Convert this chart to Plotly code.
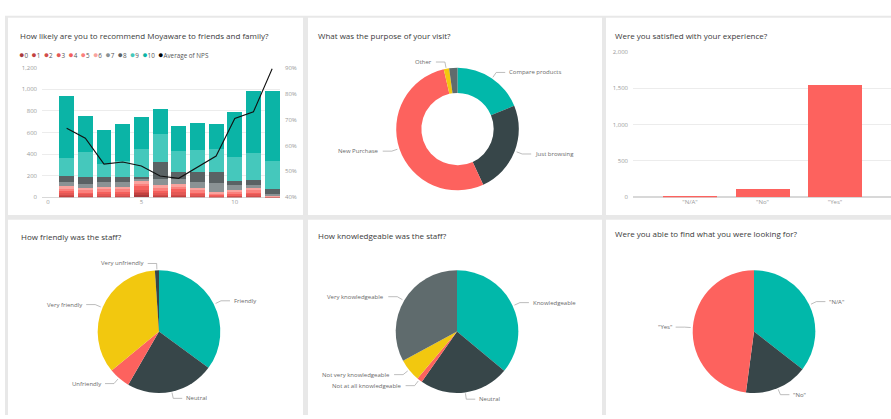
import math
import plotly.graph_objects as go

W, H = 891, 419
FONT = "Open Sans"

# ---------------- data ----------------
# Panel 1: recommend score distribution per period + average NPS
periods = list(range(1, 13))
score_labels = [str(i) for i in range(11)]
score0 = [8, 5, 6, 5, 30, 8, 8, 5, 3, 4, 5, 1]
score1 = [6, 5, 5, 6, 12, 7, 8, 5, 3, 4, 5, 1]
score2 = [10, 8, 8, 9, 12, 10, 12, 8, 4, 6, 8, 1]
score3 = [12, 10, 12, 11, 16, 13, 16, 10, 6, 8, 10, 2]
score4 = [22, 20, 21, 22, 30, 24, 28, 20, 10, 16, 20, 3]
score5 = [20, 18, 20, 19, 26, 22, 24, 18, 10, 14, 18, 3]
score6 = [22, 22, 22, 22, 30, 26, 28, 22, 12, 18, 22, 3]
score7 = [45, 36, 45, 45, 15, 60, 46, 51, 82, 39, 30, 15]
score8 = [55, 61, 52, 52, 20, 160, 60, 91, 100, 39, 43, 50]
score9 = [161, 236, 115, 145, 260, 255, 197, 212, 221, 225, 251, 257]
score10 = [575, 333, 318, 340, 294, 230, 237, 243, 225, 418, 576, 652]
avg_nps = [0.666, 0.628, 0.528, 0.536, 0.521, 0.482, 0.473, 0.515, 0.559, 0.704, 0.730, 0.896]
scores = [score0, score1, score2, score3, score4, score5, score6, score7, score8, score9, score10]

# Panel 2: purpose of visit
purpose_labels = ["Compare products", "Just browsing", "New Purchase", "Other", "(Blank)"]
purpose_values = [318, 411, 901, 24, 37]

# Panel 3: satisfied
satisfied_labels = ['"N/A"', '"No"', '"Yes"']
satisfied_values = [20, 120, 1550]

# Panel 4: friendliness
friendly_labels = ["Friendly", "Neutral", "Unfriendly", "Very friendly", "Very unfriendly"]
friendly_values = [593, 394, 96, 590, 18]

# Panel 5: knowledge
knowledge_labels = ["Knowledgeable", "Neutral", "Not at all knowledgeable",
                    "Not very knowledgeable", "Very knowledgeable"]
knowledge_values = [609, 401, 24, 101, 556]

# Panel 6: found what looking for
found_labels = ['"N/A"', '"No"', '"Yes"']
found_values = [600, 281, 810]

# ---------------- styles ----------------
score_colors = ["#A83A3C", "#C2413F", "#D24C4A", "#E35855", "#F4605C", "#FB817D",
                "#F9A39E", "#8A9294", "#5A6264", "#45C8BC", "#0BB4A6"]
TEAL, DARK, RED, YELLOW, GRAY = "#01B8AA", "#374649", "#FD625E", "#F2C80F", "#5F6B6D"
TICKC = "#9a9a9a"
TITLEC = "#3a3a3a"
LABELC = "#6a6a6a"


def px(x):
    return x / W


def py(y):
    return 1 - y / H


fig = go.Figure()

# ---- Panel 1 stacked bars + line ----
for lab, vals, col in zip(score_labels, scores, score_colors):
    fig.add_trace(go.Bar(x=periods, y=vals, name=lab, marker=dict(color=col, line=dict(width=0)),
                         width=0.8, xaxis="x", yaxis="y", showlegend=False))
fig.add_trace(go.Scatter(x=periods, y=avg_nps, mode="lines", name="Average of NPS",
                         line=dict(color="#111111", width=1.1), xaxis="x", yaxis="y2",
                         showlegend=False))

# ---- Panel 3 bars ----
fig.add_trace(go.Bar(x=satisfied_labels, y=satisfied_values, marker=dict(color=RED, line=dict(width=0)),
                     width=0.745, xaxis="x3", yaxis="y3", showlegend=False))

# ---- Pies ----
shapes = []
annotations = []


def pie_domain(cx, cy, r):
    return dict(x=[px(cx - r), px(cx + r)], y=[py(cy + r), py(cy - r)])


def add_pie(labels, values, colors, cx, cy, r, hole=0.0, skip=()):
    fig.add_trace(go.Pie(labels=labels, values=values, sort=False, direction="clockwise",
                         rotation=0, hole=hole, textinfo="none", showlegend=False,
                         marker=dict(colors=colors, line=dict(width=0)),
                         domain=pie_domain(cx, cy, r)))
    total = float(sum(values))
    cum = 0.0
    for lab, v in zip(labels, values):
        mid = (cum + v / 2.0) / total * 2 * math.pi
        cum += v
        if lab in skip:
            continue
        s, c = math.sin(mid), math.cos(mid)
        x0, y0 = cx + (r + 1) * s, cy - (r + 1) * c
        x1, y1 = cx + (r + 7) * s, cy - (r + 7) * c
        side = 1 if s >= 0 else -1
        x2 = x1 + side * 9
        shapes.append(dict(type="path", xref="paper", yref="paper",
                           path=f"M {px(x0)},{py(y0)} L {px(x1)},{py(y1)} L {px(x2)},{py(y1)}",
                           line=dict(color="#a0a0a0", width=0.7)))
        annotations.append(dict(x=px(x2 + side * 2), y=py(y1), xref="paper", yref="paper",
                                text=lab, showarrow=False, xanchor="left" if side > 0 else "right",
                                yanchor="middle", font=dict(family=FONT, size=6, color=LABELC)))


add_pie(purpose_labels, purpose_values, [TEAL, DARK, RED, YELLOW, GRAY], 457.5, 127.5, 62.5,
        hole=0.59, skip=("(Blank)",))
add_pie(friendly_labels, friendly_values, [TEAL, DARK, RED, YELLOW, DARK], 159, 334, 62.5)
add_pie(knowledge_labels, knowledge_values, [TEAL, DARK, RED, YELLOW, GRAY], 457, 334, 62.5)
add_pie(found_labels, found_values, [TEAL, DARK, RED], 754, 334, 62.5)

# ---- panel backgrounds ----
bg_shapes = [dict(type="rect", xref="paper", yref="paper", x0=px(5), x1=px(891), y0=py(419), y1=py(12),
                  fillcolor="#e8e8e8", line=dict(width=0), layer="below")]
panels = [(8, 14, 303, 215), (308, 14, 602, 215), (606, 14, 891, 215),
          (8, 220, 303, 419), (308, 220, 602, 419), (606, 220, 891, 419)]
for (x0, y0, x1, y1) in panels:
    bg_shapes.append(dict(type="rect", xref="paper", yref="paper", x0=px(x0), x1=px(x1),
                          y0=py(y1), y1=py(y0), fillcolor="white", line=dict(width=0), layer="below"))

# ---- titles ----
titles = [
    ("How likely are you to recommend Moyaware to friends and family?", 18, 32),
    ("What was the purpose of your visit?", 316, 32),
    ("Were you satisfied with your experience?", 613, 32),
    ("How friendly was the staff?", 19, 237),
    ("How knowledgeable was the staff?", 316, 236),
    ("Were you able to find what you were looking for?", 613, 234),
]
for t, x, y in titles:
    annotations.append(dict(x=px(x), y=py(y), xref="paper", yref="paper", text=t, showarrow=False,
                            xanchor="left", yanchor="middle",
                            font=dict(family=FONT, size=8, color=TITLEC)))

# ---- custom legend for panel 1 ----
legend_parts = [f"<span style='color:{c};font-size:9px'>●</span>{lab}"
                for lab, c in zip(score_labels, score_colors)]
legend_parts.append("<span style='color:#000000;font-size:9px'>●</span>Average of NPS")
annotations.append(dict(x=px(17), y=py(51), xref="paper", yref="paper", text="  ".join(legend_parts),
                        showarrow=False, xanchor="left", yanchor="middle",
                        font=dict(family=FONT, size=6.3, color="#555555")))

tickfont = dict(family=FONT, size=6, color=TICKC)

fig.update_layout(
    width=W, height=H, autosize=False,
    margin=dict(l=0, r=0, t=0, b=0),
    paper_bgcolor="white", plot_bgcolor="rgba(0,0,0,0)",
    barmode="stack", bargap=0.2,
    font=dict(family=FONT),
    shapes=bg_shapes + shapes,
    annotations=annotations,
    xaxis=dict(domain=[px(42), px(280)], range=[-0.32, 12.42], tickvals=[0, 5, 10],
               showgrid=False, zeroline=False, showline=False, tickfont=tickfont,
               anchor="y", fixedrange=True),
    yaxis=dict(domain=[py(197), py(65)], range=[0, 1200], dtick=200, tickformat=",d",
               gridcolor="#ececec", gridwidth=1, zeroline=True, zerolinecolor="#d8d8d8",
               zerolinewidth=1, showline=False, tickfont=tickfont, anchor="x", ticks="",
               ticklabelstandoff=4),
    yaxis2=dict(overlaying="y", side="right", range=[0.4, 0.9], dtick=0.1, tickformat=".0%",
                showgrid=False, zeroline=False, showline=False, tickfont=tickfont, anchor="x",
                ticklabelstandoff=4),
    xaxis3=dict(domain=[px(633), px(891)], range=[-0.786, 2.772], showgrid=False,
                zeroline=False, showline=False, tickfont=tickfont, anchor="y3", type="category"),
    yaxis3=dict(domain=[py(197), py(49)], range=[0, 2000], dtick=500, tickformat=",d",
                gridcolor="#ececec", zeroline=True, zerolinecolor="#d8d8d8", showline=False,
                tickfont=tickfont, anchor="x3", ticklabelstandoff=4),
)

fig.write_html("out.html", config={"displayModeBar": False},
               post_script="document.body.style.margin='0';")
